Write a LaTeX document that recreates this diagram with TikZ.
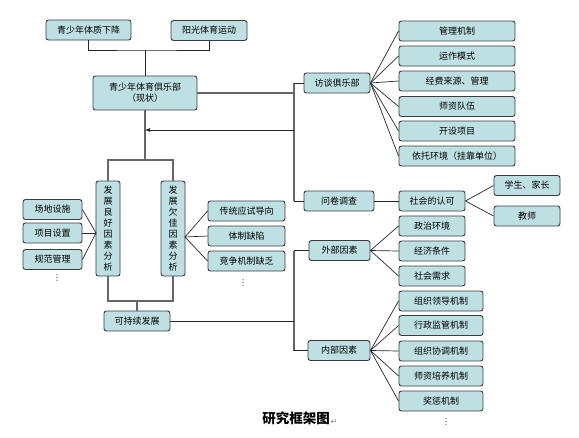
\documentclass[tikz,border=0pt]{standalone}
\usepackage{fontspec}
\setmainfont{Liberation Sans}
\newfontfamily\cjk{Noto Sans CJK SC}
\newfontfamily\dejavu{DejaVu Sans}
\usetikzlibrary{arrows.meta}
\definecolor{boxfill}{HTML}{BEE0E3}
\definecolor{boxline}{HTML}{3C3C3C}
\begin{document}
\begin{tikzpicture}[x=1pt,y=-1pt,
  box/.style={draw=boxline, fill=boxfill, rounded corners=2.5pt, line width=0.9pt,
    inner sep=0pt, minimum height=20pt, font=\cjk\fontsize{9}{11}\selectfont, align=center},
  vbox/.style={box, minimum width=24pt, minimum height=95pt},
  conn/.style={draw=black!85, line width=0.7pt},
  trunk/.style={draw=black!60, line width=1.3pt},
  vdots/.style={font=\dejavu\fontsize{8}{8}\selectfont, inner sep=0pt}]
\useasboundingbox (0,0) rectangle (579,437);
% top
\node[box, minimum width=85pt] (t1) at (88.5,30) {青少年体质下降};
\node[box, minimum width=76pt] (t2) at (209,30.5) {阳光体育运动};
\node[box, minimum width=104pt, minimum height=34pt] (main) at (145,93) {青少年体育俱乐部\\（现状）};
\coordinate (jt) at (145,50);
\draw[conn] (t1.south) |- (jt) -| (t2.south);
\draw[conn] (jt) -- (main.north);
% interview
\node[box, minimum width=66pt] (fw) at (337,83) {访谈俱乐部};
\foreach \n/\y/\t in {f1/31/管理机制, f2/56/运作模式, f3/81/经费来源、管理, f4/106.5/师资队伍, f5/131/开设项目, f6/156/依托环境（挂靠单位）}{
  \node[box, minimum width=116pt] (\n) at (457,\y) {\t};
  \draw[conn] (fw.east) -- (\n.west);
}
% questionnaire
\node[box, minimum width=70pt] (wj) at (339,201) {问卷调查};
\node[box, minimum width=66pt] (rk) at (432,201) {社会的认可};
\node[box, minimum width=66pt] (xs) at (527,185.5) {学生、家长};
\node[box, minimum width=66pt] (js) at (527,216) {教师};
\draw[conn] (wj.east) -- (rk.west);
\draw[conn] (rk.east) -- (xs.west);
\draw[conn] (rk.east) -- (js.west);
% trunk 1
\coordinate (ta) at (294,83);
\coordinate (tb) at (294,201);
\coordinate (tc) at (294,93);
\coordinate (td) at (294,130);
\draw[trunk] (ta) -- (tb);
\draw[conn] (ta) -- (fw.west);
\draw[conn] (tb) -- (wj.west);
\draw[trunk] (main.east) -- (tc);
% external
\node[box, minimum width=61pt] (wb) at (339.5,250.5) {外部因素};
\foreach \n/\y/\t in {w1/226/政治环境, w2/251/经济条件, w3/276/社会需求}{
  \node[box, minimum width=66pt] (\n) at (432,\y) {\t};
  \draw[conn] (wb.east) -- (\n.west);
}
% internal
\node[box, minimum width=62pt] (nb) at (339,350.5) {内部因素};
\foreach \n/\y/\t in {n1/301/组织领导机制, n2/325.5/行政监管机制, n3/351/组织协调机制, n4/376/师资培养机制, n5/401/奖惩机制}{
  \node[box, minimum width=84pt] (\n) at (441,\y) {\t};
  \draw[conn] (nb.east) -- (\n.west);
}
\node[vdots] (d3) at (446,422) {⋮};
% trunk 2
\coordinate (te) at (294,250.5);
\coordinate (tf) at (294,350.5);
\coordinate (tg) at (294,321);
\draw[trunk] (te) -- (tf);
\draw[conn] (te) -- (wb.west);
\draw[conn] (tf) -- (nb.west);
% left analysis
\node[vbox] (lb) at (108,228.5) {发\\展\\良\\好\\因\\素\\分\\析};
\node[vbox] (rb) at (173,228.5) {发\\展\\欠\\佳\\因\\素\\分\\析};
\coordinate (ja) at (145,160);
\draw[trunk] (main.south) -- (ja);
\draw[trunk] (lb.north) |- (ja) -| (rb.north);
\draw[conn, -{Latex[length=5pt,width=4pt]}] (td) -- (145,130);
\node[box, minimum width=66pt] (kc) at (137,321) {可持续发展};
\coordinate (jb) at (137,301);
\draw[trunk] (lb.south) |- (jb) -| (rb.south);
\draw[trunk] (jb) -- (kc.north);
\draw[conn] (kc.east) -- (tg);
\coordinate (lc) at (96,233);
\coordinate (rc) at (185,237);
\foreach \n/\y/\t in {l1/209.5/场地设施, l2/233/项目设置, l3/259.5/规范管理}{
  \node[box, minimum width=59pt] (\n) at (52.5,\y) {\t};
  \draw[conn] (\n.east) -- (lc);
}
\node[vdots] (d1) at (57,278) {⋮};
\foreach \n/\y/\t in {r1/211/传统应试导向, r2/236/体制缺陷, r3/261/竞争机制缺乏}{
  \node[box, minimum width=77pt] (\n) at (246.5,\y) {\t};
  \draw[conn] (\n.west) -- (rc);
}
\node[vdots] (d2) at (243,283) {⋮};
% caption
\node[font=\cjk\bfseries\fontsize{13.5}{15}\selectfont, inner sep=0pt] (cap) at (296,418) {研究框架图};
\node[font=\dejavu\fontsize{8}{8}\selectfont, text=black!50, anchor=south west, inner sep=0.5pt] (ret) at (cap.south east) {↵};
\end{tikzpicture}
\end{document}
